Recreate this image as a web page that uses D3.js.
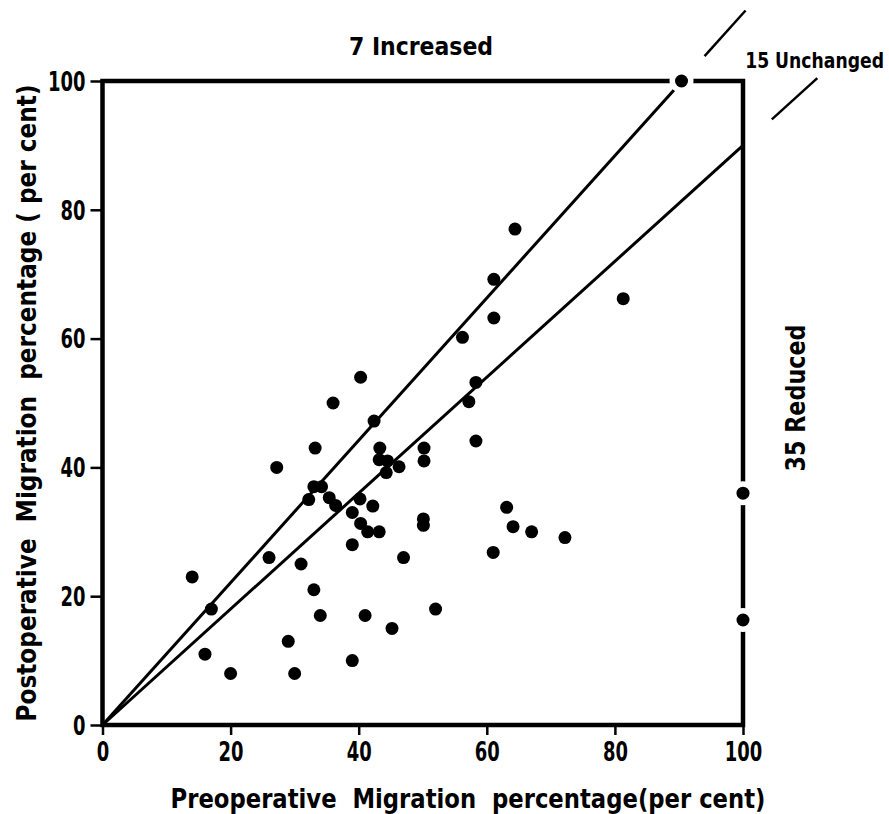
<!DOCTYPE html>
<html>
<head>
<meta charset="utf-8">
<script src="https://cdn.jsdelivr.net/npm/d3@7"></script>
<style>
body { margin: 0; background: #fff; }
text { font-family: "DejaVu Sans Condensed", "DejaVu Sans", sans-serif; font-weight: bold; fill: #000; white-space: pre; }
</style>
</head>
<body>
<svg></svg>
<script>
const width = 889;
const height = 814;

// preoperative (x) and postoperative (y) migration percentage, one entry per hip
const preOp = [14, 17, 16, 20, 26, 31, 33, 34, 29, 30, 39, 39, 40.3, 41.4, 43.2, 42.2, 41, 39, 45.2, 47,
  50.1, 50.1, 52, 32.2, 35.4, 36.4, 40.3, 36, 42.4, 33.2, 27.2, 43.3, 43.2, 44.5, 46.3, 44.3, 50.2, 50.2,
  33, 34.2, 40.2, 64.4, 61.1, 61.1, 56.2, 81.3, 58.3, 57.2, 58.3, 63.1, 64.1, 67, 72.2, 61, 100, 100, 90.4];
const postOp = [23, 18, 11, 8, 26, 25, 21, 17, 13, 8, 28, 33, 31.3, 30, 30, 34, 17, 10, 15, 26,
  32, 31, 18, 35, 35.3, 34.1, 54, 50, 47.2, 43, 40, 43, 41.2, 41, 40.1, 39.2, 43, 41,
  37, 37, 35.1, 77, 69.2, 63.2, 60.2, 66.2, 53.2, 50.2, 44.1, 33.8, 30.8, 30, 29.1, 26.8, 36, 16.3, 100];

const ticks = [0, 20, 40, 60, 80, 100];
// band lines through the origin (+/- 10 per cent)
const bandSlopes = [1.105, 0.9];
const bandOutside = [[94, 100.4], [104.5, 111.6]];
const groupLabels = ["7 Increased", "15 Unchanged", "35 Reduced"];

const svg = d3.select("svg").attr("width", width).attr("height", height);

const x = d3.scaleLinear().domain([0, 100]).range([102.5, 743]);
const y = d3.scaleLinear().domain([0, 100]).range([725, 81]);

// axes
const yAxis = svg.append("g").attr("transform", `translate(${x(0)},0)`)
  .call(d3.axisLeft(y).tickValues(ticks).tickSize(12).tickPadding(5));
const xAxis = svg.append("g").attr("transform", `translate(0,${y(0)})`)
  .call(d3.axisBottom(x).tickValues(ticks).tickSize(10).tickPadding(8));
[xAxis, yAxis].forEach(a => {
  a.select(".domain").remove();
  a.selectAll(".tick line").attr("stroke", "#000").attr("stroke-width", 2.5);
  a.selectAll("text").style("font-size", "26px").attr("fill", "#000")
    .attr("textLength", d => String(d).length * 12.5).attr("lengthAdjust", "spacingAndGlyphs");
});
yAxis.selectAll("text").attr("dy", "0.36em");

// frame
svg.append("rect")
  .attr("x", x(0)).attr("y", y(100))
  .attr("width", x(100) - x(0)).attr("height", y(0) - y(100))
  .attr("fill", "none").attr("stroke", "#000").attr("stroke-width", 4.5);

// band lines
const line = d3.line().x(d => x(d[0])).y(d => y(d[1]));
bandSlopes.forEach((s, i) => {
  const xEnd = Math.min(100, 100 / s);
  svg.append("path").attr("d", line([[0, 0], [xEnd, s * xEnd]]))
    .attr("stroke", "#000").attr("stroke-width", 3).attr("fill", "none");
  const o = bandOutside[i];
  svg.append("path").attr("d", line([[o[0], s * o[0]], [o[1], s * o[1]]]))
    .attr("stroke", "#000").attr("stroke-width", 2.5).attr("fill", "none");
});

const pts = preOp.map((v, i) => [v, postOp[i]]);

// white gaps around points sitting on the frame
svg.append("g").selectAll("circle")
  .data(pts.filter(d => d[0] >= 100 || d[1] >= 100))
  .join("circle")
  .attr("cx", d => x(d[0])).attr("cy", d => y(d[1])).attr("r", 12)
  .attr("fill", "#fff");

svg.append("g").selectAll("circle")
  .data(pts)
  .join("circle")
  .attr("cx", d => x(d[0])).attr("cy", d => y(d[1])).attr("r", 6.5)
  .attr("fill", "#000");

// group labels
svg.append("text").attr("x", 421).attr("y", 55).attr("text-anchor", "middle")
  .style("font-size", "24px").attr("textLength", 144).attr("lengthAdjust", "spacingAndGlyphs")
  .text(groupLabels[0]);
svg.append("text").attr("transform", "translate(884,68) scale(0.87,1)").attr("text-anchor", "end")
  .style("font-size", "22px")
  .text(groupLabels[1]);
svg.append("text").attr("transform", "translate(805,398) rotate(-90)").attr("text-anchor", "middle")
  .style("font-size", "27px").attr("textLength", 147).attr("lengthAdjust", "spacingAndGlyphs")
  .text(groupLabels[2]);

// axis titles
svg.append("text").attr("x", 468).attr("y", 808).attr("text-anchor", "middle")
  .style("font-size", "26px").attr("textLength", 595).attr("lengthAdjust", "spacingAndGlyphs")
  .text("Preoperative  Migration  percentage(per cent)");
svg.append("text").attr("transform", "translate(36,403) rotate(-90)").attr("text-anchor", "middle")
  .style("font-size", "26px").attr("textLength", 637).attr("lengthAdjust", "spacingAndGlyphs")
  .text("Postoperative  Migration  percentage ( per cent)");
</script>
</body>
</html>
